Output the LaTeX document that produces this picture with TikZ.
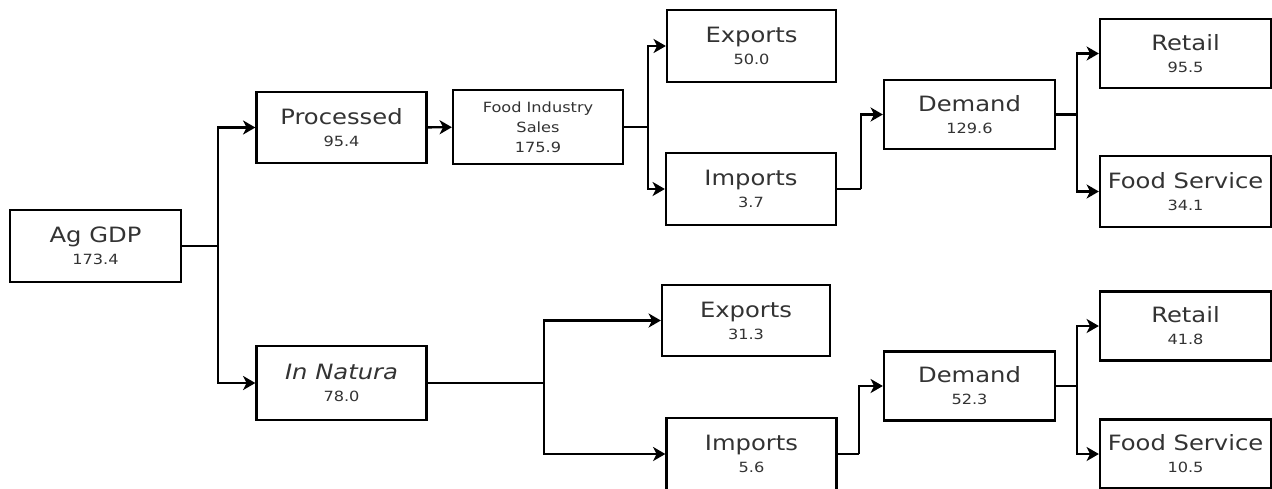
\documentclass[tikz,border=0pt]{standalone}
\usepackage{fontspec}
\setmainfont{DejaVu Sans}[FakeStretch=1.15]
\usetikzlibrary{arrows.meta, positioning}

\begin{document}
\begin{tikzpicture}[font=\footnotesize, box style/.style={draw=black, line width=1.3pt, fill=white, minimum width=3.4cm, minimum height=1.42cm, align=center, inner sep=1pt, text=black!80}, edge style/.style={line width=1.4pt, black}, arrow edge/.style={edge style, -{Stealth[length=7pt, width=8pt, inset=2pt]}}]

    \useasboundingbox (0,0) rectangle (25.44,-9.76);

    % =========================================================================
    % Origen
    % =========================================================================
    \node[box style, minimum width=3.42cm, minimum height=1.44cm] (agdp) at (1.91,-4.92) {{\large Ag GDP}\\[3pt]173.4};

    \node[box style] (proc) at (6.83,-2.55) {{\large Processed}\\[3pt]95.4};
    \node[box style, minimum height=1.48cm] (nat) at (6.83,-7.66) {{\large\itshape In Natura}\\[3pt]78.0};

    % =========================================================================
    % Rama superior: procesados
    % =========================================================================
    \node[box style, minimum height=1.48cm] (fis) at (10.76,-2.54) {Food Industry\\[2pt]Sales\\[2pt]175.9};
    \node[box style, minimum width=3.38cm, minimum height=1.44cm] (expA) at (15.03,-0.92) {{\large Exports}\\[3pt]50.0};
    \node[box style, minimum height=1.44cm] (impA) at (15.02,-3.78) {{\large Imports}\\[3pt]3.7};
    \node[box style, minimum width=3.42cm, minimum height=1.38cm] (demA) at (19.39,-2.29) {{\large Demand}\\[3pt]129.6};
    \node[box style, minimum width=3.42cm, minimum height=1.38cm] (retA) at (23.71,-1.07) {{\large Retail}\\[3pt]95.5};
    \node[box style, minimum width=3.42cm] (fsA) at (23.71,-3.83) {{\large Food Service}\\[3pt]34.1};

    % =========================================================================
    % Rama inferior: in natura
    % =========================================================================
    \node[box style, minimum width=3.36cm] (expB) at (14.92,-6.41) {{\large Exports}\\[3pt]31.3};
    \node[box style, minimum height=1.44cm] (impB) at (15.03,-9.08) {{\large Imports}\\[3pt]5.6};
    \node[box style, minimum width=3.42cm, minimum height=1.38cm] (demB) at (19.39,-7.72) {{\large Demand}\\[3pt]52.3};
    \node[box style, minimum width=3.42cm, minimum height=1.38cm] (retB) at (23.71,-6.52) {{\large Retail}\\[3pt]41.8};
    \node[box style, minimum width=3.42cm, minimum height=1.38cm] (fsB) at (23.71,-9.08) {{\large Food Service}\\[3pt]10.5};

    % Puntos de bifurcacion
    \coordinate (j1) at (4.36,-4.92);
    \coordinate (j2) at (12.96,-2.54);
    \coordinate (j3) at (17.22,-3.78);
    \coordinate (j4) at (21.54,-2.29);
    \coordinate (j5) at (10.88,-7.66);
    \coordinate (j6) at (17.18,-9.08);
    \coordinate (j7) at (21.54,-7.72);

    % Conexiones
    \draw[edge style] (agdp) -- (j1);
    \draw[arrow edge] (j1) |- (proc);
    \draw[arrow edge] (j1) |- (nat);

    \draw[arrow edge] (proc) -- (fis);
    \draw[edge style] (fis) -- (j2);
    \draw[arrow edge] (j2) |- (expA);
    \draw[arrow edge] (j2) |- (impA);

    \draw[edge style] (impA) -- (j3);
    \draw[arrow edge] (j3) |- (demA);
    \draw[edge style, line width=2.2pt] (demA) -- (j4);
    \draw[arrow edge] (j4) |- (retA);
    \draw[arrow edge] (j4) |- (fsA);

    \draw[edge style] (nat) -- (j5);
    \draw[arrow edge] (j5) |- (expB);
    \draw[arrow edge] (j5) |- (impB);

    \draw[edge style] (impB) -- (j6);
    \draw[arrow edge] (j6) |- (demB);
    \draw[edge style] (demB) -- (j7);
    \draw[arrow edge] (j7) |- (retB);
    \draw[arrow edge] (j7) |- (fsB);

\end{tikzpicture}
\end{document}
